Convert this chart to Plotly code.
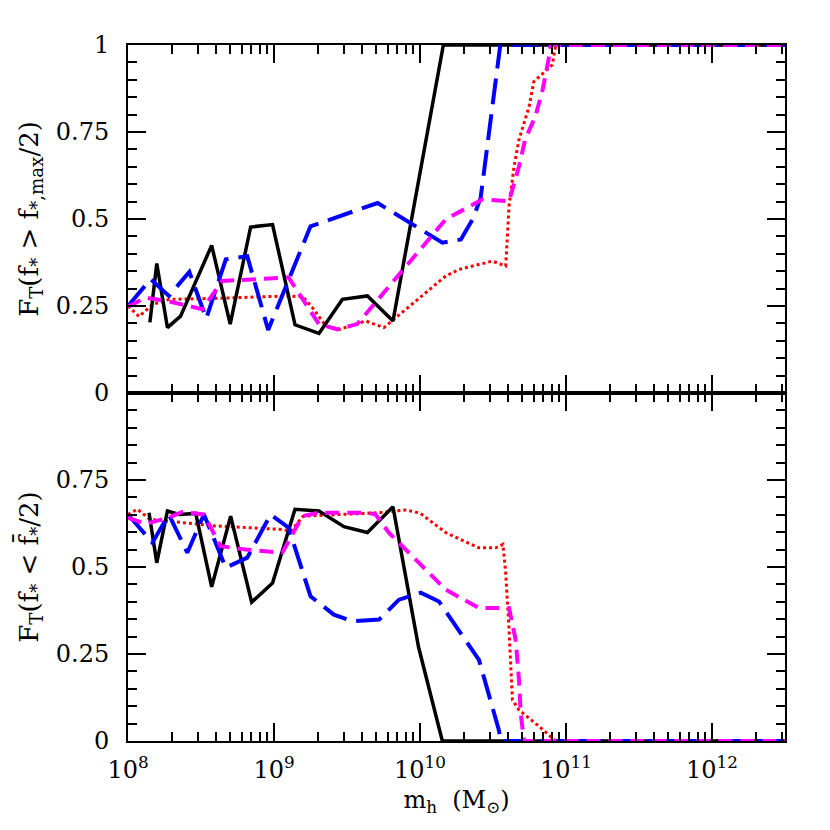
import plotly.graph_objects as go
from plotly.subplots import make_subplots

# ---------------- data (log10 of halo mass, fraction) ----------------
# Top panel: F_T(f* > f*,max/2)
top_black_logm = [8.15, 8.197, 8.27, 8.36, 8.573, 8.70, 8.84, 8.99, 9.144, 9.308, 9.468, 9.64, 9.815, 10.16, 12.5]
top_black_f = [0.203, 0.372, 0.188, 0.221, 0.424, 0.198, 0.477, 0.484, 0.196, 0.171, 0.269, 0.279, 0.207, 1.0, 1.0]

top_blue_logm = [8.0, 8.155, 8.28, 8.42, 8.536, 8.67, 8.817, 8.96, 9.25, 9.71, 10.153, 10.28, 10.36, 10.415, 10.55, 12.5]
top_blue_f = [0.25, 0.327, 0.279, 0.348, 0.214, 0.384, 0.393, 0.181, 0.479, 0.546, 0.432, 0.441, 0.499, 0.56, 1.0, 1.0]

top_magenta_logm = [8.0, 8.12, 8.28, 8.51, 8.646, 9.10, 9.308, 9.434, 9.57, 10.176, 10.426, 10.61, 10.678, 10.72, 10.79, 10.84, 10.88, 10.895, 12.5]
top_magenta_f = [0.248, 0.274, 0.263, 0.241, 0.322, 0.332, 0.198, 0.183, 0.198, 0.499, 0.556, 0.551, 0.651, 0.728, 0.795, 0.871, 0.957, 1.0, 1.0]

top_red_logm = [8.0, 8.075, 8.17, 8.28, 8.6, 9.1, 9.2, 9.262, 9.354, 9.45, 9.628, 9.753, 10.176, 10.267, 10.495, 10.587, 10.61, 10.644, 10.678, 10.747, 10.78, 10.906, 10.93, 12.5]
top_red_f = [0.25, 0.22, 0.255, 0.269, 0.272, 0.279, 0.276, 0.246, 0.193, 0.183, 0.207, 0.188, 0.336, 0.355, 0.379, 0.365, 0.537, 0.651, 0.728, 0.823, 0.895, 0.943, 1.0, 1.0]

# Bottom panel: F_T(f* < fbar*/2)
bot_black_logm = [8.144, 8.197, 8.27, 8.35, 8.464, 8.573, 8.703, 8.847, 8.99, 9.144, 9.308, 9.479, 9.64, 9.815, 9.99, 10.153, 12.5]
bot_black_f = [0.656, 0.512, 0.661, 0.651, 0.654, 0.443, 0.646, 0.399, 0.454, 0.666, 0.661, 0.616, 0.599, 0.673, 0.27, 0.0, 0.0]

bot_blue_logm = [8.0, 8.167, 8.28, 8.406, 8.52, 8.67, 8.817, 8.977, 9.10, 9.25, 9.41, 9.536, 9.72, 9.856, 10.005, 10.13, 10.404, 10.54, 10.553, 12.5]
bot_blue_f = [0.651, 0.57, 0.651, 0.541, 0.651, 0.498, 0.527, 0.651, 0.613, 0.416, 0.363, 0.344, 0.349, 0.406, 0.426, 0.401, 0.233, 0.032, 0.0, 0.0]

bot_magenta_logm = [8.0, 8.12, 8.28, 8.37, 8.52, 8.634, 8.806, 9.057, 9.194, 9.308, 9.64, 9.696, 9.788, 10.176, 10.404, 10.61, 10.655, 10.678, 10.69, 10.712, 12.5]
bot_magenta_f = [0.642, 0.624, 0.642, 0.658, 0.651, 0.56, 0.55, 0.541, 0.646, 0.656, 0.656, 0.651, 0.598, 0.435, 0.382, 0.382, 0.291, 0.176, 0.08, 0.0, 0.0]

bot_red_logm = [8.0, 8.064, 8.15, 8.3, 8.6, 9.05, 9.114, 9.2, 9.5, 9.72, 9.9, 10.0, 10.176, 10.404, 10.518, 10.568, 10.587, 10.61, 10.633, 10.678, 10.79, 10.906, 10.93, 12.5]
bot_red_f = [0.651, 0.666, 0.637, 0.63, 0.618, 0.608, 0.603, 0.646, 0.651, 0.656, 0.664, 0.655, 0.599, 0.555, 0.555, 0.565, 0.483, 0.32, 0.118, 0.089, 0.051, 0.008, 0.0, 0.0]

x_tick_vals = [1e8, 1e9, 1e10, 1e11, 1e12]
x_tick_text = ["10<sup>8</sup>", "10<sup>9</sup>", "10<sup>10</sup>", "10<sup>11</sup>", "10<sup>12</sup>"]
top_y_ticks = [0, 0.25, 0.5, 0.75, 1]
top_y_text = ["0", "0.25", "0.5", "0.75", "1"]
bot_y_ticks = [0, 0.25, 0.5, 0.75]
bot_y_text = ["0", "0.25", "0.5", "0.75"]

# ---------------- styles ----------------
styles = {
    "red": dict(color="#ff0000", width=3, dash="3px,3px"),
    "black": dict(color="#000000", width=3.5),
    "blue": dict(color="#0000ff", width=4, dash="26px,10px"),
    "magenta": dict(color="#ff00ff", width=4, dash="14px,8px"),
}

def tolin(v):
    return [10 ** a for a in v]

fig = make_subplots(rows=2, cols=1, shared_xaxes=True, vertical_spacing=0)

top_series = [("red", top_red_logm, top_red_f), ("black", top_black_logm, top_black_f),
              ("blue", top_blue_logm, top_blue_f), ("magenta", top_magenta_logm, top_magenta_f)]
bot_series = [("red", bot_red_logm, bot_red_f), ("black", bot_black_logm, bot_black_f),
              ("blue", bot_blue_logm, bot_blue_f), ("magenta", bot_magenta_logm, bot_magenta_f)]

for name, xs, ys in top_series:
    fig.add_trace(go.Scatter(x=tolin(xs), y=ys, mode="lines", line=styles[name], showlegend=False), row=1, col=1)
for name, xs, ys in bot_series:
    fig.add_trace(go.Scatter(x=tolin(xs), y=ys, mode="lines", line=styles[name], showlegend=False), row=2, col=1)

minor_x = [k * 10 ** d for d in range(8, 13) for k in range(2, 10)]
font_family = "DejaVu Serif"

xcommon = dict(type="log", range=[8, 12.5], showgrid=False, zeroline=False,
               showline=True, linecolor="black", linewidth=2, mirror="allticks",
               ticks="inside", ticklen=18, tickwidth=1.5, tickcolor="black",
               tickvals=x_tick_vals,
               minor=dict(tickmode="array", tickvals=minor_x, ticks="inside", ticklen=9,
                          tickwidth=1.5, tickcolor="black", showgrid=False))
ycommon = dict(range=[0, 1], showgrid=False, zeroline=False,
               showline=True, linecolor="black", linewidth=2, mirror="allticks",
               ticks="inside", ticklen=18, tickwidth=1.5, tickcolor="black",
               ticklabelstandoff=12,
               minor=dict(dtick=0.05, tick0=0, ticks="inside", ticklen=9,
                          tickwidth=1.5, tickcolor="black", showgrid=False),
               tickfont=dict(family=font_family, size=24, color="black"))

fig.update_xaxes(**xcommon, showticklabels=False, row=1, col=1)
fig.update_xaxes(**xcommon, ticktext=x_tick_text, showticklabels=True,
                 ticklabelstandoff=6,
                 tickfont=dict(family=font_family, size=24, color="black"),
                 title=dict(text="m<sub>h</sub>  (M<sub>⊙</sub>)",
                            font=dict(family=font_family, size=24, color="black"), standoff=8),
                 row=2, col=1)
fig.update_yaxes(**ycommon, tickvals=top_y_ticks, ticktext=top_y_text,
                 title=dict(text="F<sub>T</sub>(f<sub>*</sub> > f<sub>*,max</sub>/2)",
                            font=dict(family=font_family, size=26, color="black"), standoff=10),
                 row=1, col=1)
fig.update_yaxes(**ycommon, tickvals=bot_y_ticks, ticktext=bot_y_text,
                 title=dict(text="F<sub>T</sub>(f<sub>*</sub> < f\u0304<sub>*</sub>/2)",
                            font=dict(family=font_family, size=26, color="black"), standoff=10),
                 row=2, col=1)

fig.update_layout(width=830, height=830, margin=dict(l=120, r=53, t=37, b=97),
                  plot_bgcolor="white", paper_bgcolor="white",
                  font=dict(family=font_family, size=24, color="black"))

fig.write_html("out.html")
